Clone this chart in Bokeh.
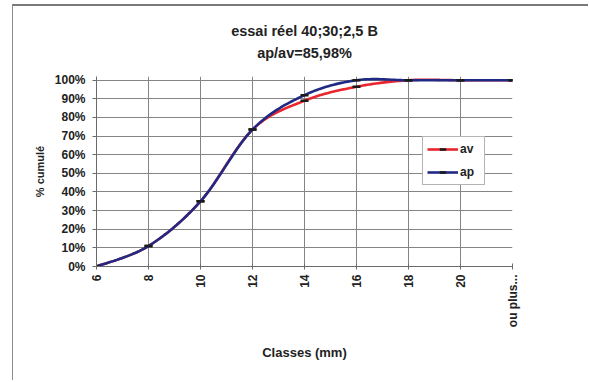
import math
from bokeh.plotting import figure
from bokeh.models import (FixedTicker, NumeralTickFormatter, Legend,
                          LegendItem, Range1d, Title)
from bokeh.embed import file_html
from bokeh.resources import INLINE

# ---- data ----
classes = ["6", "8", "10", "12", "14", "16", "18", "20", "ou plus..."]
av = [0.00, 0.11, 0.35, 0.735, 0.89, 0.965, 1.00, 1.00, 1.00]
ap = [0.00, 0.11, 0.35, 0.735, 0.92, 1.00, 1.00, 1.00, 1.00]
y_ticks = [0.0, 0.1, 0.2, 0.3, 0.4, 0.5, 0.6, 0.7, 0.8, 0.9, 1.0]
title_lines = ["essai réel 40;30;2,5 B", "ap/av=85,98%"]
x_title = "Classes (mm)"
y_title = "% cumulé"
series_names = ["av", "ap"]
series_colors = ["#e8262e", "#1f2a85"]

FONT = "Liberation Sans"
xs = list(range(len(classes)))


def smooth(x, y, n=24):
    """Catmull-Rom smoothing (as Excel's smoothed line) through the data points."""
    px, py = [], []
    m = len(x)
    for i in range(m - 1):
        x0, y0 = (x[i - 1], y[i - 1]) if i > 0 else (x[i], y[i])
        x1, y1 = x[i], y[i]
        x2, y2 = x[i + 1], y[i + 1]
        x3, y3 = (x[i + 2], y[i + 2]) if i + 2 < m else (x[i + 1], y[i + 1])
        for k in range(n + (1 if i == m - 2 else 0)):
            t = k / n
            t2, t3 = t * t, t * t * t

            def cr(a, b, c, d):
                return 0.5 * ((2 * b) + (-a + c) * t + (2 * a - 5 * b + 4 * c - d) * t2
                              + (-a + 3 * b - 3 * c + d) * t3)
            px.append(cr(x0, x1, x2, x3))
            py.append(cr(y0, y1, y2, y3))
    return px, py


p = figure(width=576, height=376, output_backend="svg", toolbar_location=None,
           x_range=Range1d(0, len(classes) - 1), y_range=Range1d(0, 1.02),
           min_border_left=83, min_border_right=77, min_border_top=70,
           min_border_bottom=116)
p.styles = {"margin-left": "12px", "margin-top": "4px",
            "border-left": "1px solid #8c8c8c", "border-top": "2px solid #7a7a7a"}
p.background_fill_color = "white"
p.border_fill_color = "white"
p.outline_line_color = None

# grid
p.xgrid.ticker = FixedTicker(ticks=xs)
p.ygrid.ticker = FixedTicker(ticks=y_ticks)
for g in (p.xgrid, p.ygrid):
    g.grid_line_color = "#858585"
    g.grid_line_width = 1

# axes
p.xaxis.ticker = FixedTicker(ticks=xs)
p.xaxis.major_label_overrides = {i: c for i, c in enumerate(classes)}
p.xaxis.major_label_orientation = math.pi / 2
p.yaxis.ticker = FixedTicker(ticks=y_ticks)
p.yaxis.formatter = NumeralTickFormatter(format="0%")
for ax in (p.xaxis, p.yaxis):
    ax.axis_line_color = "#6a6a6a"
    ax.major_tick_line_color = "#6a6a6a"
    ax.minor_tick_line_color = None
    ax.major_label_text_font = FONT
    ax.major_label_text_font_style = "bold"
    ax.major_label_text_font_size = "12px"
    ax.major_label_text_color = "#222222"
    ax.axis_label_text_font = FONT
    ax.axis_label_text_font_style = "bold"
    ax.axis_label_text_color = "#222222"
p.xaxis.axis_label_text_font_size = "13px"
p.yaxis.axis_label_text_font_size = "11px"
p.xaxis.major_tick_in = 3
p.xaxis.major_tick_out = 3
p.xaxis.major_label_standoff = 5
p.yaxis.major_tick_in = 0
p.yaxis.major_tick_out = 4
p.yaxis.major_label_standoff = 7
p.xaxis.axis_label = x_title
p.yaxis.axis_label = y_title
p.xaxis.axis_label_standoff = 15
p.yaxis.axis_label_standoff = 6

# series
items = []
for name, vals, col in zip(series_names, [av, ap], series_colors):
    sx, sy = smooth(xs, vals)
    rl = p.line(sx, sy, line_color=col, line_width=2.6)
    rm = p.scatter(xs, vals, marker="dash", size=8, line_color="#1a1a1a",
                   line_width=2.5)
    items.append(LegendItem(label=name, renderers=[rl, rm]))

legend = Legend(items=items, location=(326, 81))
legend.label_text_font = FONT
legend.label_text_font_style = "bold"
legend.label_text_font_size = "12px"
legend.label_text_color = "#222222"
legend.glyph_width = 31
legend.glyph_height = 16
legend.label_height = 16
legend.label_standoff = 2
legend.spacing = 7
legend.padding = 4
legend.margin = 0
legend.border_line_color = "#6a6a6a"
legend.border_line_width = 1
legend.background_fill_color = "white"
legend.background_fill_alpha = 1
p.add_layout(legend, "center")

# title (two lines): first added sits nearest the frame
for txt, so in zip(reversed(title_lines), [32, -24]):
    p.add_layout(Title(text=txt, align="center", text_font=FONT,
                       text_font_style="bold", text_font_size="14.5px",
                       text_color="#222222", standoff=so, offset=0), "above")

open("out.html", "w").write(file_html(p, INLINE))
